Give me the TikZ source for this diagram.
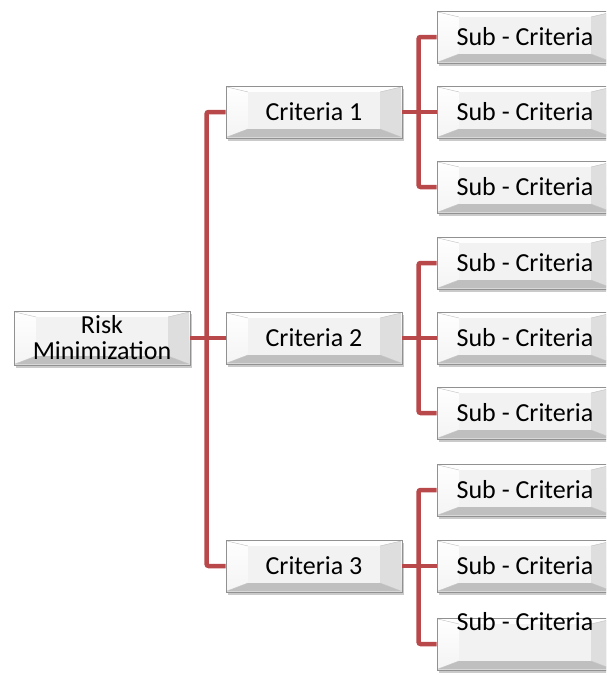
\documentclass[tikz,border=0pt]{standalone}
\usepackage{fontspec}
\setmainfont{Carlito}
\usetikzlibrary{shadows,calc}
\definecolor{linkred}{RGB}{185,72,74}
\definecolor{boxedge}{RGB}{145,145,145}
\tikzset{
  bevelbox/.style={rectangle, draw=boxedge, line width=0.8pt,
    top color=white, bottom color=black!14,
    minimum width=176pt, minimum height=52pt, inner sep=0pt,
    font=\fontsize{26}{26}\selectfont, align=center,
    drop shadow={shadow xshift=2pt, shadow yshift=-3pt, opacity=0.35, fill=black!60},
    path picture={
      \coordinate (pa) at ($(path picture bounding box.south west)+(1,1)$);
      \coordinate (pb) at ($(path picture bounding box.north east)+(-1,-1)$);
      \coordinate (qa) at ($(path picture bounding box.south west)+(22,9)$);
      \coordinate (qb) at ($(path picture bounding box.north east)+(-22,-6)$);
      \fill[white,opacity=0.9] (pa |- pb) -- (pb) -- (qb) -- (qa |- qb) -- cycle;
      \fill[black!25] (pa) -- (pb |- pa) -- (qb |- qa) -- (qa) -- cycle;
      \fill[white,opacity=0.7] (pa) -- (pa |- pb) -- (qa |- qb) -- (qa) -- cycle;
      \fill[black!13] (pb |- pa) -- (pb) -- (qb) -- (qb |- qa) -- cycle;
      \fill[black!5] (qa) rectangle (qb);
      \draw[black!25,line width=0.4pt] (pa) -- (qa) (pb) -- (qb) (pa |- pb) -- (qa |- qb) (pb |- pa) -- (qb |- qa);
    }},
  conn/.style={draw=linkred, line width=4.5pt, rounded corners=2pt},
  subtext/.style={font=\fontsize{26}{26}\selectfont, inner sep=0pt, anchor=base}
}
\begin{document}
\begin{tikzpicture}[x=1pt,y=1pt]
\useasboundingbox (0,0) rectangle (606,-675);
\clip (0,0) rectangle (606,-675);
\node[bevelbox, minimum height=54pt] (root) at (102,-338) {Risk\\Minimization};
\node[bevelbox] (c1) at (314,-112) {Criteria 1};
\node[bevelbox] (c2) at (314,-338) {Criteria 2};
\node[bevelbox] (c3) at (314,-566) {Criteria 3};
\node[bevelbox] (s11) at (525,-37) {Sub - Criteria};
\node[bevelbox] (s12) at (525,-112) {Sub - Criteria};
\node[bevelbox] (s13) at (525,-187) {Sub - Criteria};
\node[bevelbox] (s21) at (525,-263) {Sub - Criteria};
\node[bevelbox] (s22) at (525,-338) {Sub - Criteria};
\node[bevelbox] (s23) at (525,-413) {Sub - Criteria};
\node[bevelbox] (s31) at (525,-490) {Sub - Criteria};
\node[bevelbox] (s32) at (525,-566) {Sub - Criteria};
\node[bevelbox] (s33) at (525,-644) {};
\node[subtext] (s33t) at ($(s33.north)+(0,-13)$) {Sub - Criteria};
\draw[conn] (c1.west) -- ++(-19,0) |- (c3.west);
\draw[conn] (root.east) -- (c2.west);
\draw[conn] (s11.west) -- ++(-18,0) |- (s13.west);
\draw[conn] (c1.east) -- (s12.west);
\draw[conn] (s21.west) -- ++(-18,0) |- (s23.west);
\draw[conn] (c2.east) -- (s22.west);
\draw[conn] (s31.west) -- ++(-18,0) |- (s33.west);
\draw[conn] (c3.east) -- (s32.west);
\end{tikzpicture}
\end{document}
